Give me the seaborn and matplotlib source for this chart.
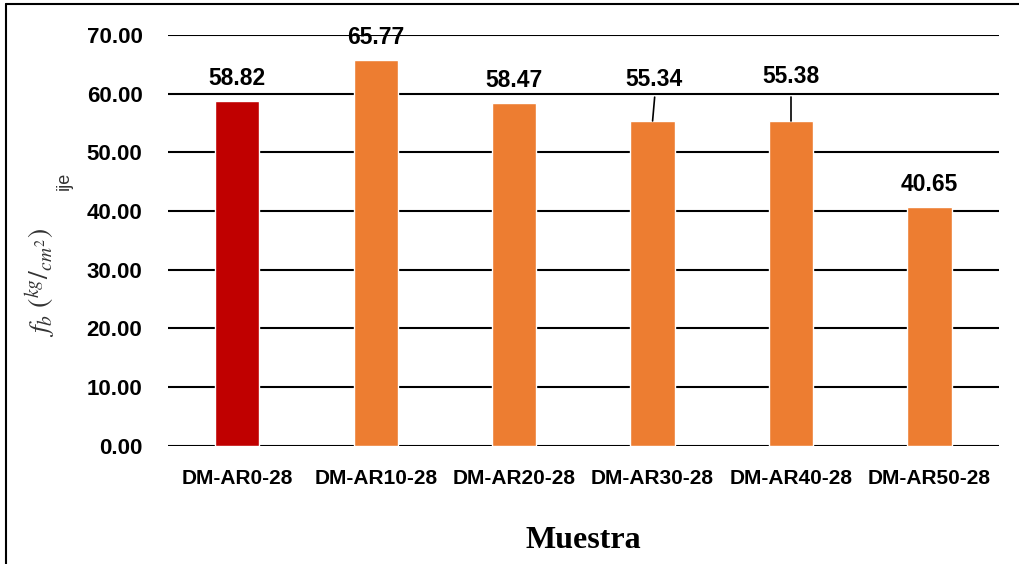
import matplotlib
matplotlib.use("Agg")
import matplotlib.pyplot as plt
import seaborn as sns
import pandas as pd
from matplotlib.lines import Line2D

muestras = ["DM-AR0-28", "DM-AR10-28", "DM-AR20-28", "DM-AR30-28", "DM-AR40-28", "DM-AR50-28"]
fb = [58.82, 65.77, 58.47, 55.34, 55.38, 40.65]
colores = ["#C00000", "#ED7D31", "#ED7D31", "#ED7D31", "#ED7D31", "#ED7D31"]
yticks = [0, 10, 20, 30, 40, 50, 60, 70]

df = pd.DataFrame({"Muestra": muestras, "fb": fb})

sns.set_theme(style="white")
plt.rcParams["font.family"] = ["Liberation Sans", "DejaVu Sans"]
plt.rcParams["mathtext.fontset"] = "stix"
plt.rcParams["text.color"] = "black"
plt.rcParams["xtick.color"] = "black"
plt.rcParams["ytick.color"] = "black"

fig = plt.figure(figsize=(10.19, 5.64), dpi=100)
ax = fig.add_axes([0.165, 0.21, 0.815, 0.728])

sns.barplot(data=df, x="Muestra", y="fb", hue="Muestra", palette=colores,
            legend=False, width=0.32, ax=ax, saturation=1)

ax.set_ylim(0, 70)
ax.set_yticks(yticks)
ax.set_yticklabels([f"{v:.2f}" for v in yticks], fontsize=16, fontweight="bold", color="black")
ax.set_xticks(range(len(muestras)))
ax.set_xticklabels(muestras, fontsize=15, fontweight="bold", color="black")
ax.tick_params(axis="x", pad=17, length=0)
ax.tick_params(axis="y", pad=18.5, length=0)
ax.set_xlim(-0.5, len(muestras) - 0.5)

for s in ax.spines.values():
    s.set_visible(False)
ax.yaxis.grid(True, color="black", linewidth=1.5)
ax.set_axisbelow(True)
ax.set_xlabel("")
ax.set_ylabel("")

# data labels: baseline height above each bar; two of them carry leader lines
label_y = [v + 2.7 for v in fb]
label_y[3] = 61.3
label_y[4] = 61.8
leaders = [False, False, False, True, True, False]
label_x = [0, 1, 2, 3.01, 4, 5]
for i, (v, ty, lead) in enumerate(zip(fb, label_y, leaders)):
    ax.text(label_x[i], ty, f"{v:.2f}", ha="center", va="baseline",
            fontsize=16.5, fontweight="bold", color="black")
    if lead:
        ax.plot([i + (0.015 if i == 3 else 0.0), i], [59.4, v], color="black", lw=1.2)

fig.text(0.572, 0.042, "Muestra", ha="center", va="center",
         fontsize=23, fontweight="bold", family="Liberation Serif", color="black")

fig.text(0.041, 0.50, r"$f_b\ \left(^{kg}/_{cm^2}\right)$",
         rotation=90, ha="center", va="center", fontsize=20, color="#333333")
fig.text(0.063, 0.68, "ije", rotation=90, ha="center", va="center",
         fontsize=13, color="#333333")

# outer frame on the left and top
fig.add_artist(Line2D([0.006, 0.006], [0.0, 0.993], color="black", lw=1.5,
                      transform=fig.transFigure))
fig.add_artist(Line2D([0.006, 1.0], [0.993, 0.993], color="black", lw=1.5,
                      transform=fig.transFigure))

fig.savefig("out.png", dpi=100)
